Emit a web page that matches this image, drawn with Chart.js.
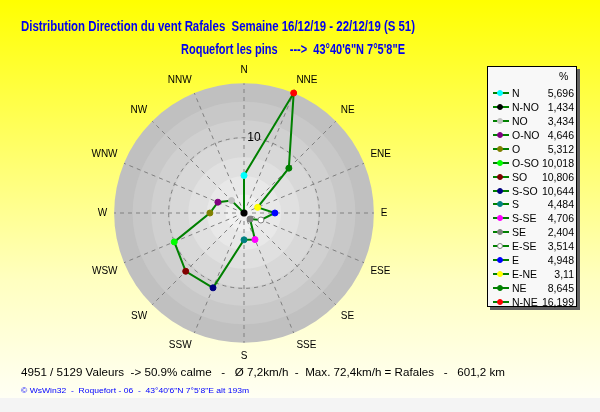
<!DOCTYPE html>
<html>
<head>
<meta charset="utf-8">
<script src="https://cdn.jsdelivr.net/npm/chart.js@4"></script>
<style>
  body { margin: 0; width: 600px; height: 412px; overflow: hidden; position: relative;
         background: linear-gradient(to bottom, #ffff00 0px, #ffff40 90px, #ffffc0 280px, #fffff4 398px);
         font-family: "Liberation Sans", Arial, sans-serif; }
  #strip { position: absolute; left: 0; top: 398px; width: 600px; height: 14px; background: #f4f4f4; }
  canvas { position: absolute; left: 0; top: 0; }
  .txt { position: absolute; white-space: pre; transform-origin: left top; display: inline-block; }
  .title { font-family: "Liberation Sans Narrow", "Liberation Sans", Arial, sans-serif; font-weight: bold; font-size: 14px; color: #0000f0; }
  #legend { position: absolute; left: 487px; top: 66px; width: 88px; height: 239px; background: #f8f8f8;
            border: 1px solid #000; box-shadow: 3px 3px 0 #606060; font-size: 10.5px; color: #000; }
  .row { position: absolute; left: 0; width: 88px; height: 14px; line-height: 14px; }
  .sym { position: absolute; left: 5px; top: 6px; width: 16px; height: 2px; background: #008000; }
  .dot { position: absolute; left: 9px; top: 4px; width: 6px; height: 6px; border-radius: 50%; box-sizing: border-box; border: 1px solid; }
  .nm { position: absolute; left: 24px; }
  .vl { position: absolute; right: 2px; }
</style>
</head>
<body>
<div id="strip"></div>
<canvas id="c" width="600" height="412"></canvas>
<div class="txt title" style="left:21px; top:18px" data-w="394">Distribution Direction du vent Rafales  Semaine 16/12/19 - 22/12/19 (S 51)</div>
<div class="txt title" style="left:181px; top:41px" data-w="224">Roquefort les pins    --->  43°40'6"N 7°5'8"E</div>
<div class="txt" style="left:21px; top:366px; font-size:11px; color:#000" data-w="484">4951 / 5129 Valeurs  -> 50.9% calme   -   Ø 7,2km/h  -  Max. 72,4km/h = Rafales   -   601,2 km</div>
<div class="txt" style="left:21px; top:386px; font-size:8px; color:#0000ff" data-w="228">© WsWin32  -  Roquefort - 06  -  43°40'6"N 7°5'8"E alt 193m</div>
<div id="legend"><div style="position:absolute; left:71px; top:3px">%</div></div>
<script>
// directions clockwise from north
const dirLabels = ['N', 'NNE', 'NE', 'ENE', 'E', 'ESE', 'SE', 'SSE', 'S', 'SSW', 'SW', 'WSW', 'W', 'WNW', 'NW', 'NNW'];
const legendNames = ['N', 'N-NE', 'NE', 'E-NE', 'E', 'E-SE', 'SE', 'S-SE', 'S', 'S-SO', 'SO', 'O-SO', 'O', 'O-NO', 'NO', 'N-NO'];
const pct = [5.696, 16.199, 8.645, 3.11, 4.948, 3.514, 2.404, 4.706, 4.484, 10.644, 10.806, 10.018, 5.312, 4.646, 3.434, 1.434];
const dotColors = ['#00ffff', '#ff0000', '#008000', '#ffff00', '#0000ff', '#ffffff', '#808080', '#ff00ff',
                   '#008080', '#000080', '#800000', '#00ff00', '#808000', '#800080', '#c0c0c0', '#000000'];
const tickValues = [10];
const bandShades = ['#c0c0c0', '#c8c8c8', '#d0d0d0', '#d8d8d8', '#e0e0e0', '#e8e8e8', '#f0f0f0'];

const rMin = Math.min(...pct);
const rMax = Math.max(...pct);

// legend rows: N first, then counter-clockwise like the original
const legend = document.getElementById('legend');
const order = [0];
for (let i = pct.length - 1; i > 0; i--) order.push(i);
order.forEach((idx, k) => {
  const row = document.createElement('div');
  row.className = 'row';
  row.style.top = (19 + k * 13.93) + 'px';
  const c = dotColors[idx];
  row.innerHTML = '<div class="sym"></div><div class="dot" style="background:' + c + ';border-color:' +
    (c === '#ffffff' ? '#808080' : c) + '"></div><span class="nm">' + legendNames[idx] +
    '</span><span class="vl">' + String(pct[idx]).replace('.', ',') + '</span>';
  legend.appendChild(row);
});

// squeeze texts to the widths of the original
document.querySelectorAll('[data-w]').forEach(el => {
  const w = el.getBoundingClientRect().width;
  el.style.transform = 'scaleX(' + (el.dataset.w / w) + ')';
});

const bands = {
  id: 'bands',
  beforeDraw(chart) {
    const s = chart.scales.r;
    const ctx = chart.ctx;
    ctx.save();
    bandShades.forEach((col, i) => {
      ctx.beginPath();
      ctx.arc(s.xCenter, s.yCenter, s.drawingArea * (1 - i / bandShades.length), 0, Math.PI * 2);
      ctx.fillStyle = col;
      ctx.fill();
    });
    ctx.restore();
  }
};

new Chart(document.getElementById('c'), {
  type: 'radar',
  data: {
    labels: dirLabels,
    datasets: [{
      data: pct,
      borderColor: '#008000',
      borderWidth: 2,
      fill: false,
      tension: 0,
      pointRadius: 3,
      pointBorderWidth: 1,
      pointBackgroundColor: dotColors,
      pointBorderColor: dotColors.map(c => c === '#ffffff' ? '#808080' : c)
    }]
  },
  options: {
    responsive: false,
    animation: false,
    layout: { padding: { left: 89, right: 205, top: 60, bottom: 46 } },
    plugins: { legend: { display: false }, tooltip: { enabled: false } },
    scales: {
      r: {
        min: rMin,
        max: rMax,
        afterBuildTicks(scale) {
          scale.ticks = [{ value: rMin }].concat(tickValues.map(v => ({ value: v })));
        },
        ticks: {
          showLabelBackdrop: false,
          backdropPadding: 0,
          color: '#000',
          font: { family: 'Liberation Sans', size: 12 },
          callback: v => '      ' + v
        },
        grid: { circular: true, color: '#808080' },
        border: { dash: [4, 4] },
        angleLines: { color: '#808080', borderDash: [4, 4] },
        pointLabels: { color: '#000', font: { family: 'Liberation Sans', size: 10 }, padding: 1 }
      }
    }
  },
  plugins: [bands]
});
</script>
</body>
</html>
